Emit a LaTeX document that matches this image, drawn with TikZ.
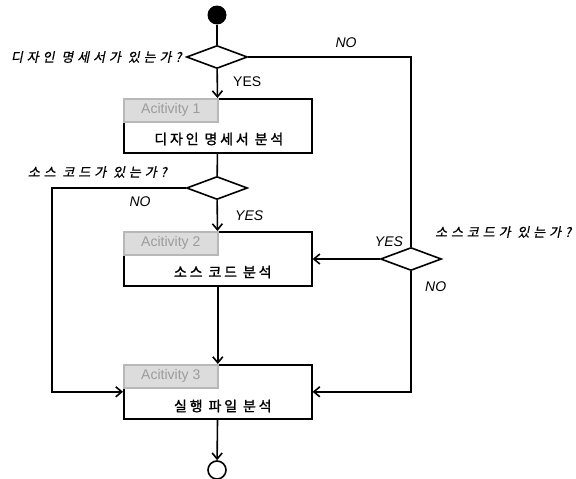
\documentclass[tikz,border=0pt]{standalone}
\usepackage{fontspec}
\setmainfont{Liberation Sans}
\newfontfamily\krfont[LetterSpace=20,FakeBold=1.5]{Noto Sans CJK KR}
\newfontfamily\krqfont[LetterSpace=30,FakeSlant=0.2,FakeBold=0.6]{Noto Sans CJK KR}
\usetikzlibrary{arrows.meta,positioning,shapes.geometric}
\definecolor{tabfill}{HTML}{DCDCDC}
\definecolor{tabline}{HTML}{B8B8B8}
\definecolor{tabtext}{HTML}{9C9C9C}
\tikzset{
  flow/.style={-{Straight Barb[length=6pt,width=10pt]}, line width=1.6pt},
  link/.style={line width=1.6pt},
  actbox/.style={draw, line width=1.6pt, minimum width=188pt, minimum height=54pt, inner sep=0pt, anchor=north west},
  acttab/.style={draw=tabline, fill=tabfill, line width=1.6pt, minimum width=94pt, minimum height=23pt,
               inner sep=0pt, anchor=north west, font=\fontsize{14}{16}\selectfont, text=tabtext},
  acttext/.style={font=\krfont\fontsize{14}{16}\selectfont, inner sep=0pt},
  decision/.style={draw, diamond, line width=1.6pt, minimum width=61pt, minimum height=23pt, inner sep=0pt},
  question/.style={font=\krqfont\fontsize{13}{15}\selectfont, inner sep=0pt},
  guard/.style={font=\itshape\fontsize{14}{16}\selectfont, inner sep=0pt},
  guardup/.style={font=\fontsize{14}{16}\selectfont, inner sep=0pt},
  initial/.style={circle, fill=black, minimum size=19pt, inner sep=0pt},
  final/.style={circle, draw, line width=1.6pt, minimum size=18pt, inner sep=0pt},
}
\def\cx{217}
\def\rx{411}
\begin{document}
\begin{tikzpicture}[x=1pt, y=-1pt]
  \useasboundingbox (0,0) rectangle (576,479);
  % nodes
  \node[initial] (start) at (\cx,15) {};
  \node[decision] (d1) at (\cx,57) {};
  \node[actbox] (b1) at (123,98) {};
  \node[decision] (d2) at (\cx,188) {};
  \node[actbox] (b2) at (123,231) {};
  \node[decision] (d3) at (\rx,259) {};
  \node[actbox] (b3) at (123,364) {};
  \node[final] (end) at (\cx,470) {};
  \node[acttab] (tab1) at (b1.north west) {Acitivity 1};
  \node[acttab] (tab2) at (b2.north west) {Acitivity 2};
  \node[acttab] (tab3) at (b3.north west) {Acitivity 3};
  \node[acttext] (t1) at ([xshift=1pt,yshift=-41pt]b1.north) {디자인 명세서 분석};
  \node[acttext] (t2) at ([xshift=5pt,yshift=-41pt]b2.north) {소스 코드 분석};
  \node[acttext] (t3) at ([xshift=5pt,yshift=-42pt]b3.north) {실행 파일 분석};
  % labels
  \node[question, left=4pt of d1] (q1) {디자인 명세서가 있는가?};
  \node[question, anchor=east] (q2) at (167,172) {소스 코드가 있는가?};
  \node[question, anchor=west] (q3) at (435,232) {소스코드가 있는가?};
  \node[guard] (no1) at (346,43) {NO};
  \node[guardup, anchor=west] (yes1) at (233,82) {YES};
  \node[guard] (no2) at (140,202) {NO};
  \node[guard, anchor=west] (yes2) at (235,216) {YES};
  \node[guard] (yes3) at (389,242) {YES};
  \node[guard, anchor=west] (no3) at (425,287) {NO};
  % connectors
  \draw[link] (start) -- (d1);
  \draw[flow] (d1) -- (b1);
  \draw[link] (d1.east) -| (d3.north);
  \draw[link] (b1) -- (d2);
  \draw[flow] (d2) -- (b2);
  \draw[flow] (d2.west) -| ([xshift=-71pt]b3.west) -- (b3.west);
  \draw[flow] (d3.west) -- (d3.west -| b2.east);
  \draw[flow] (d3.south) |- (b3.east);
  \draw[flow] (b2) -- (b3);
  \draw[flow] (b3) -- (end);
\end{tikzpicture}
\end{document}
